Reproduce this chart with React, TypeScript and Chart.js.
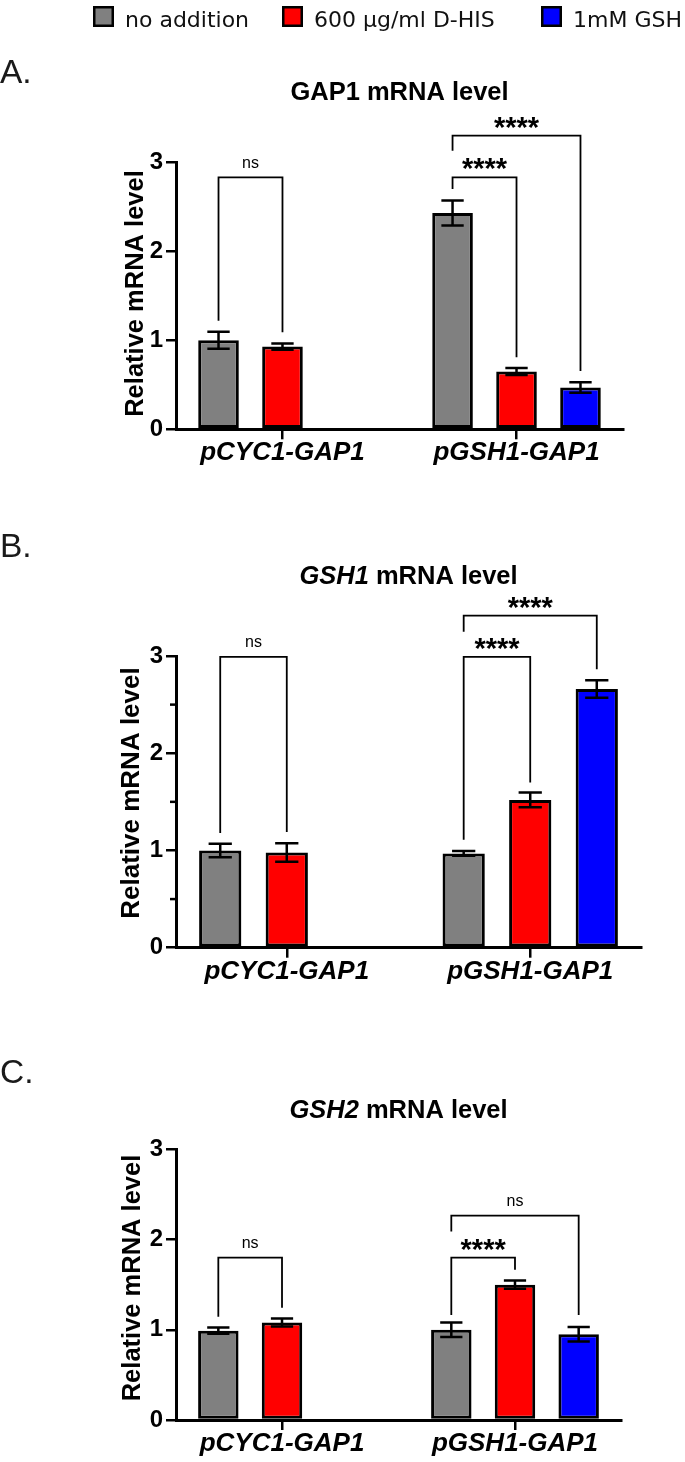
import React, { useEffect, useRef } from 'react';
import { Chart, registerables } from 'chart.js';

Chart.register(...registerables);

const FONT = '"Liberation Sans", Arial, Helvetica, sans-serif';
const LEGEND_FONT = '"DejaVu Sans", Verdana, sans-serif';

// ---------- shared data ----------
const GROUPS = ['pCYC1-GAP1', 'pGSH1-GAP1'];
const SERIES_LABELS = ['no addition', '600 µg/ml D-HIS', '1mM GSH'];
const SERIES_COLORS = ['#808080', '#ff0000', '#0000ff'];
const Y_TICK_STEP = 1;
const Y_MAX = 3;

// ---------- Panel A : GAP1 mRNA level ----------
const A_NO_ADDITION = [1.0, 2.43];
const A_NO_ADDITION_ERR = [0.095, 0.14];
const A_DHIS = [0.93, 0.65];
const A_DHIS_ERR = [0.035, 0.04];
const A_GSH = [null, 0.47];
const A_GSH_ERR = [null, 0.06];
// [group, fromSeries, toSeries, bracketY, leftLegEnd, rightLegEnd, label]
const A_BRACKETS: any[] = [
  [0, 0, 1, 2.83, 1.22, 1.09, 'ns'],
  [1, 0, 1, 2.83, 2.7, 0.81, '****'],
  [1, 0, 2, 3.3, 3.13, 0.655, '****'],
];
const A_MINOR_TICKS: number[] = [];

// ---------- Panel B : GSH1 mRNA level ----------
const B_NO_ADDITION = [1.0, 0.97];
const B_NO_ADDITION_ERR = [0.07, 0.025];
const B_DHIS = [0.98, 1.52];
const B_DHIS_ERR = [0.095, 0.075];
const B_GSH = [null, 2.66];
const B_GSH_ERR = [null, 0.09];
const B_BRACKETS: any[] = [
  [0, 0, 1, 2.99, 1.18, 1.19, 'ns'],
  [1, 0, 1, 2.99, 1.11, 1.7, '****'],
  [1, 0, 2, 3.415, 3.25, 2.865, '****'],
];
const B_MINOR_TICKS = [0.5, 1.5, 2.5];

// ---------- Panel C : GSH2 mRNA level ----------
const C_NO_ADDITION = [0.99, 1.0];
const C_NO_ADDITION_ERR = [0.035, 0.08];
const C_DHIS = [1.08, 1.5];
const C_DHIS_ERR = [0.045, 0.045];
const C_GSH = [null, 0.95];
const C_GSH_ERR = [null, 0.08];
const C_BRACKETS: any[] = [
  [0, 0, 1, 1.8, 1.145, 1.245, 'ns'],
  [1, 0, 1, 1.8, 1.165, 1.665, '****'],
  [1, 0, 2, 2.265, 2.09, 1.165, 'ns'],
];
const C_MINOR_TICKS: number[] = [];

// layout constants
const X_AXIS_H = 40;
const X_MARGIN = 0.455;
const LEGEND_BOX_X = [93, 282, 541];

const PANELS = [
  {
    key: 'A',
    letter: 'A.',
    title: [['GAP1', false], [' mRNA level', false]],
    values: [A_NO_ADDITION, A_DHIS, A_GSH],
    errors: [A_NO_ADDITION_ERR, A_DHIS_ERR, A_GSH_ERR],
    brackets: A_BRACKETS,
    minorTicks: A_MINOR_TICKS,
    legend: true,
    L: { top: 0, height: 490, plotTop: 162.3, plotBottom: 429.3, plotRight: 623, letterBase: 83, titleBase: 100, yTitleX: 143, yTitleC: 293.5, yTitleSize: 25.5 },
  },
  {
    key: 'B',
    letter: 'B.',
    title: [['GSH1', true], [' mRNA level', false]],
    values: [B_NO_ADDITION, B_DHIS, B_GSH],
    errors: [B_NO_ADDITION_ERR, B_DHIS_ERR, B_GSH_ERR],
    brackets: B_BRACKETS,
    minorTicks: B_MINOR_TICKS,
    legend: false,
    L: { top: 490, height: 510, plotTop: 656, plotBottom: 947.7, plotRight: 641, letterBase: 557, titleBase: 583.6, yTitleX: 139, yTitleC: 793, yTitleSize: 26 },
  },
  {
    key: 'C',
    letter: 'C.',
    title: [['GSH2', true], [' mRNA level', false]],
    values: [C_NO_ADDITION, C_DHIS, C_GSH],
    errors: [C_NO_ADDITION_ERR, C_DHIS_ERR, C_GSH_ERR],
    brackets: C_BRACKETS,
    minorTicks: C_MINOR_TICKS,
    legend: false,
    L: { top: 1000, height: 462, plotTop: 1149.3, plotBottom: 1420, plotRight: 621, letterBase: 1083, titleBase: 1118, yTitleX: 140, yTitleC: 1278, yTitleSize: 25.5 },
  },
];

function drawCenteredText(ctx: CanvasRenderingContext2D, text: string, cx: number, cy: number) {
  const m = ctx.measureText(text);
  const asc = m.actualBoundingBoxAscent;
  const desc = m.actualBoundingBoxDescent;
  ctx.textAlign = 'center';
  ctx.textBaseline = 'alphabetic';
  ctx.fillText(text, cx, cy + (asc - desc) / 2);
}

function makePlugin(p: any) {
  const L = p.L;
  return {
    id: 'decor' + p.key,
    afterDatasetsDraw(chart: any) {
      const ctx: CanvasRenderingContext2D = chart.ctx;
      const ys = chart.scales.y;
      const ca = chart.chartArea;
      ctx.save();
      ctx.strokeStyle = '#000';
      ctx.fillStyle = '#000';
      // error bars
      p.values.forEach((vals: any[], di: number) => {
        const meta = chart.getDatasetMeta(di);
        vals.forEach((v: any, gi: number) => {
          const e = p.errors[di][gi];
          if (v == null || e == null) return;
          const el = meta.data[gi];
          if (!el) return;
          const cx = el.x;
          const half = el.width * 0.275;
          const yt = ys.getPixelForValue(v + e);
          const yb = ys.getPixelForValue(v - e);
          ctx.lineWidth = 2.5;
          ctx.beginPath();
          ctx.moveTo(cx, yt);
          ctx.lineTo(cx, yb);
          ctx.moveTo(cx - half, yt);
          ctx.lineTo(cx + half, yt);
          ctx.moveTo(cx - half, yb);
          ctx.lineTo(cx + half, yb);
          ctx.stroke();
        });
      });
      // minor ticks
      p.minorTicks.forEach((v: number) => {
        const y = ys.getPixelForValue(v);
        ctx.lineWidth = 2.5;
        ctx.beginPath();
        ctx.moveTo(ca.left, y);
        ctx.lineTo(ca.left - 6, y);
        ctx.stroke();
      });
      // significance brackets
      p.brackets.forEach((b: any[]) => {
        const [g, a, c, ly, le, re, label] = b;
        const x1 = chart.getDatasetMeta(a).data[g].x;
        const x2 = chart.getDatasetMeta(c).data[g].x;
        const yl = ys.getPixelForValue(ly);
        ctx.lineWidth = 1.8;
        ctx.beginPath();
        ctx.moveTo(x1, ys.getPixelForValue(le));
        ctx.lineTo(x1, yl);
        ctx.lineTo(x2, yl);
        ctx.lineTo(x2, ys.getPixelForValue(re));
        ctx.stroke();
        if (label === 'ns') {
          ctx.font = '16px ' + FONT;
          drawCenteredText(ctx, label, (x1 + x2) / 2, yl - 14);
        } else {
          ctx.font = 'bold 29px ' + FONT;
          drawCenteredText(ctx, label, (x1 + x2) / 2, yl - 13);
        }
      });
      ctx.restore();
    },
    afterDraw(chart: any) {
      const ctx: CanvasRenderingContext2D = chart.ctx;
      const ca = chart.chartArea;
      ctx.save();
      // panel letter
      ctx.font = '33.5px ' + FONT;
      ctx.fillStyle = '#1a1a1a';
      ctx.textAlign = 'left';
      ctx.textBaseline = 'alphabetic';
      ctx.fillText(p.letter, 0, L.letterBase - L.top);
      // title (mixed italic)
      ctx.fillStyle = '#000';
      const parts = p.title.map(([t, it]: any) => ({ t, font: (it ? 'italic ' : '') + 'bold 25.5px ' + FONT, w: 0 }));
      let total = 0;
      parts.forEach((pt: any) => {
        ctx.font = pt.font;
        pt.w = ctx.measureText(pt.t).width;
        total += pt.w;
      });
      let tx = (ca.left + ca.right) / 2 - total / 2;
      parts.forEach((pt: any) => {
        ctx.font = pt.font;
        ctx.fillText(pt.t, tx, L.titleBase - L.top);
        tx += pt.w;
      });
      // y axis title
      ctx.save();
      ctx.translate(L.yTitleX, L.yTitleC - L.top);
      ctx.rotate(-Math.PI / 2);
      ctx.font = 'bold ' + L.yTitleSize + 'px ' + FONT;
      ctx.textAlign = 'center';
      ctx.textBaseline = 'alphabetic';
      ctx.fillText('Relative mRNA level', 0, 0);
      ctx.restore();
      // legend
      if (p.legend) {
        const box = 21;
        chart.data.datasets.forEach((ds: any, i: number) => {
          const x = LEGEND_BOX_X[i];
          ctx.fillStyle = ds.backgroundColor;
          ctx.fillRect(x, 6, box, box);
          ctx.strokeStyle = '#000';
          ctx.lineWidth = 2.5;
          ctx.strokeRect(x + 1.25, 6 + 1.25, box - 2.5, box - 2.5);
          ctx.fillStyle = '#111';
          ctx.font = '22px ' + LEGEND_FONT;
          ctx.textAlign = 'left';
          ctx.textBaseline = 'alphabetic';
          ctx.fillText(ds.label, x + box + 11, 27);
        });
      }
      ctx.restore();
    },
  };
}

function PanelChart({ p }: { p: any }) {
  const ref = useRef<HTMLCanvasElement>(null);
  useEffect(() => {
    const L = p.L;
    const axisGrid = {
      display: true,
      drawOnChartArea: false,
      drawTicks: true,
      tickLength: 10,
      color: '#000',
      lineWidth: 2.5,
      offset: false,
    };
    const chart = new Chart(ref.current as HTMLCanvasElement, {
      type: 'bar',
      data: {
        datasets: p.values.map((vals: any[], di: number) => ({
          label: SERIES_LABELS[di],
          data: vals.map((v: any, gi: number) => ({ x: gi, y: v })),
          backgroundColor: SERIES_COLORS[di],
          borderColor: '#000',
          borderWidth: 3,
          borderSkipped: false,
          categoryPercentage: 0.82,
          barPercentage: 0.635,
        })),
      },
      options: {
        animation: false,
        responsive: false,
        devicePixelRatio: 1,
        layout: {
          padding: {
            top: L.plotTop - L.top,
            left: 0,
            right: 685 - L.plotRight,
            bottom: L.height - (L.plotBottom - L.top) - X_AXIS_H,
          },
        },
        plugins: {
          legend: { display: false },
          title: { display: false },
          tooltip: { enabled: false },
        },
        scales: {
          x: {
            type: 'linear',
            min: -X_MARGIN,
            max: GROUPS.length - 1 + X_MARGIN,
            offset: false,
            bounds: 'data',
            afterBuildTicks: (s: any) => {
              s.ticks = GROUPS.map((_, i) => ({ value: i }));
            },
            afterFit: (s: any) => {
              s.height = X_AXIS_H;
            },
            grid: axisGrid,
            border: { display: true, color: '#000', width: 3 },
            ticks: {
              callback: (v: any) => GROUPS[v] ?? '',
              color: '#000',
              font: { family: FONT, size: 26, weight: 'bold', style: 'italic', lineHeight: 1 },
              padding: 1,
              maxRotation: 0,
              autoSkip: false,
            },
          },
          y: {
            min: 0,
            max: Y_MAX,
            afterFit: (s: any) => {
              s.width = 176;
            },
            grid: axisGrid,
            border: { display: true, color: '#000', width: 3 },
            ticks: {
              stepSize: Y_TICK_STEP,
              color: '#000',
              font: { family: FONT, size: 24, weight: 'bold' },
              padding: 3,
            },
          },
        },
      } as any,
      plugins: [makePlugin(p)],
    } as any);
    return () => chart.destroy();
  }, [p]);
  return (
    <canvas
      ref={ref}
      width={685}
      height={p.L.height}
      style={{ position: 'absolute', left: 0, top: p.L.top, width: 685, height: p.L.height, display: 'block' }}
    />
  );
}

export default function App() {
  return (
    <div style={{ position: 'absolute', left: 0, top: 0, width: 685, height: 1462, background: '#fff' }}>
      {PANELS.map((p) => (
        <PanelChart key={p.key} p={p} />
      ))}
    </div>
  );
}
